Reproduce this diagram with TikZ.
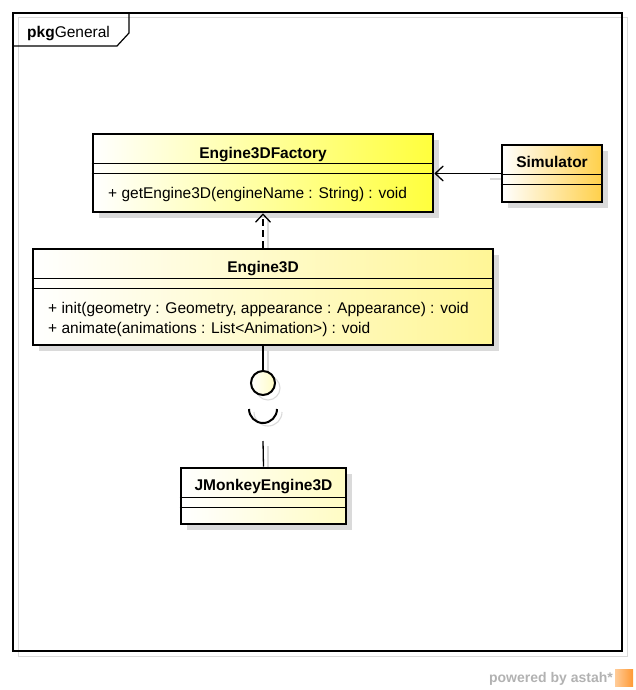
\documentclass[tikz,border=0pt]{standalone}
\usepackage{fontspec}
\setmainfont{Liberation Sans}
\usetikzlibrary{arrows.meta,positioning,shadows}
\definecolor{factoryyellow}{RGB}{255,255,60}
\definecolor{engineyellow}{RGB}{255,246,150}
\definecolor{monkeyyellow}{RGB}{255,252,196}
\definecolor{simorange}{RGB}{255,208,74}
\definecolor{shadegray}{RGB}{218,218,218}

\begin{document}
\begin{tikzpicture}[x=1pt,y=-1pt,>={Straight Barb[length=8pt,width=15pt]},
  classbox/.style={draw,line width=2.6pt,inner sep=0pt,left color=white,
    drop shadow={shadow xshift=6pt,shadow yshift=-6pt,fill=shadegray,opacity=1}},
  classname/.style={anchor=base,font=\bfseries\fontsize{15.5}{18}\selectfont},
  member/.style={anchor=base west,align=left,inner sep=0pt,font=\fontsize{15.5}{20}\selectfont},
  sep/.style={line width=1pt},
  link/.style={line width=1.3pt},
  shade/.style={shadegray,line width=1.1pt}]
\useasboundingbox (0,0) rectangle (636,690);
\draw[shadegray,line width=1pt] (18,18) rectangle (627,656);
\draw[line width=1.2pt] (13,13) rectangle (622,651);
\draw[line width=1.2pt] (13,46) -- (117,46) -- (129,33) -- (129,13);
\node[anchor=base west,inner sep=0pt,font=\fontsize{15.5}{18}\selectfont] (pkgtab) at (27,38) {\textbf{pkg}General};

\draw[shade] (268,212) -- (268,249);
\draw[shade] (502,179) -- (490,179);
\draw[shade] (268,345) -- (268,376);
\draw[shade] (268,388) circle[radius=12];
\draw[shade] (254,412) arc[start angle=180,end angle=0,radius=14];
\draw[shade] (268,446) -- (268,473);

\node[classbox,right color=factoryyellow,minimum width=340pt,minimum height=78pt] (factory) at (263,173) {};
\node[classbox,right color=simorange,minimum width=100pt,minimum height=57pt] (simulator) at (552,173.5) {};
\node[classbox,right color=engineyellow,minimum width=460pt,minimum height=96pt] (engine) at (263,297) {};
\node[classbox,right color=monkeyyellow,minimum width=165pt,minimum height=56pt] (jmonkey) at (263.5,496) {};

\foreach \cls in {factory,simulator,engine,jmonkey}{
  \draw[sep] ([yshift=-31pt]\cls.north west) -- ([yshift=-31pt]\cls.north east);
  \draw[sep] ([yshift=-41pt]\cls.north west) -- ([yshift=-41pt]\cls.north east);
}

\node[classname] (factoryname) at (263,158) {Engine3DFactory};
\node[member] (factoryop) at (108,198) {+ getEngine3D(engineName : String) : void};
\node[classname] (simulatorname) at (552,167) {Simulator};
\node[classname] (enginename) at (263,272) {Engine3D};
\node[member] (engineops) at (48,333) {+ init(geometry : Geometry, appearance : Appearance) : void\\+ animate(animations : List<Animation>) : void};
\node[classname] (jmonkeyname) at (263.5,490) {JMonkeyEngine3D};

\node[circle,draw,line width=2pt,minimum size=24pt,inner sep=0pt,left color=white,right color=monkeyyellow] (ball) at (263,383) {};
\coordinate (socket) at (263,409);
\coordinate (req) at (263,441);

\draw[link,dash pattern=on 7pt off 4pt,->] (engine.north) -- (factory.south);
\draw[link,->] (simulator.west) -- (factory.east |- simulator.west);
\draw[link] (engine.south) -- (ball.north);
\draw[line width=2pt] ([xshift=-14pt]socket) arc[start angle=180,end angle=0,radius=14];
\draw[link] (req) -- (jmonkey.north);

\node[anchor=base east,inner sep=0pt,text=black!30,font=\bfseries\fontsize{14}{14}\selectfont] (powered) at (613,682) {powered by astah*};
\fill[left color=orange!40,right color=orange!80] (615,669) rectangle (633,686);
\end{tikzpicture}
\end{document}
